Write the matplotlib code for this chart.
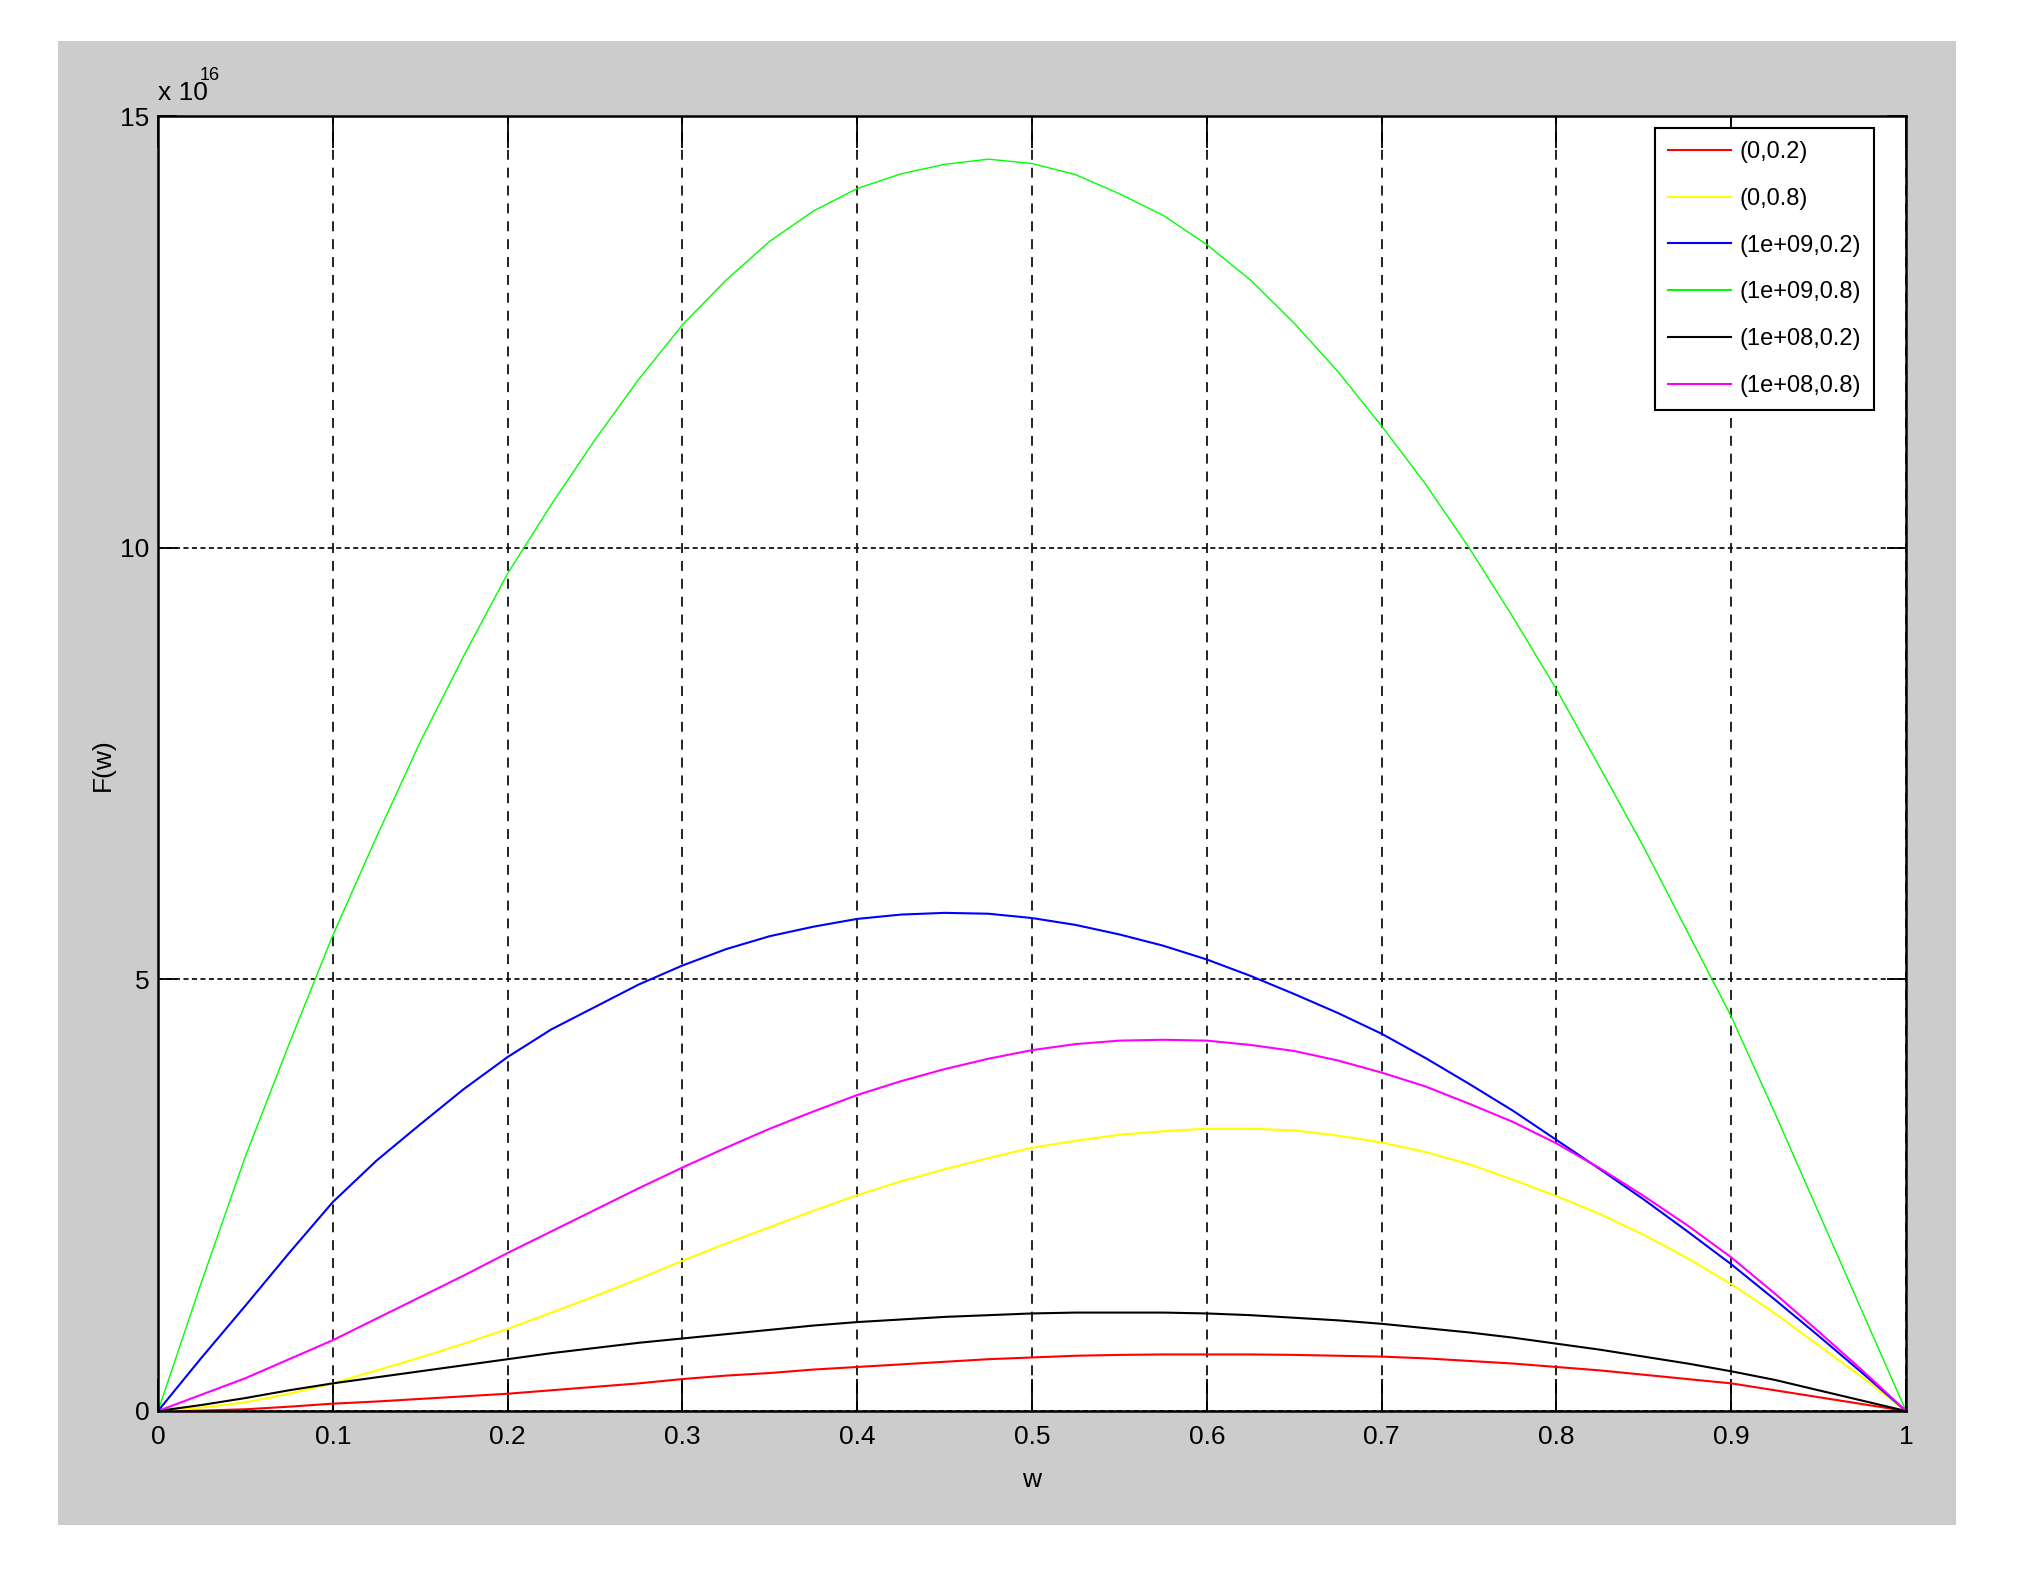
import matplotlib
matplotlib.use('Agg')
import matplotlib.pyplot as plt
from matplotlib.patches import Rectangle
import numpy as np

plt.rcParams['font.family'] = ['Liberation Sans Narrow', 'Liberation Sans', 'DejaVu Sans']

# w axis samples (every 0.025)
w = [0, 0.025, 0.05, 0.075, 0.1, 0.125, 0.15, 0.175, 0.2, 0.225, 0.25,
     0.275, 0.3, 0.325, 0.35, 0.375, 0.4, 0.425, 0.45, 0.475, 0.5,
     0.525, 0.55, 0.575, 0.6, 0.625, 0.65, 0.675, 0.7, 0.725, 0.75,
     0.775, 0.8, 0.825, 0.85, 0.875, 0.9, 0.925, 0.95, 0.975, 1.0]

# F(w) values, in units of 1e16
f_0_02 = [0, 0.005, 0.02, 0.05, 0.085, 0.11, 0.14, 0.17, 0.20, 0.24, 0.28,
          0.32, 0.37, 0.41, 0.44, 0.48, 0.51, 0.54, 0.57, 0.60, 0.62,
          0.64, 0.65, 0.655, 0.655, 0.655, 0.65, 0.64, 0.63, 0.61, 0.58,
          0.55, 0.51, 0.47, 0.42, 0.37, 0.32, 0.24, 0.16, 0.08, 0]
f_0_08 = [0, 0.04, 0.10, 0.20, 0.32, 0.47, 0.62, 0.78, 0.95, 1.14, 1.33,
          1.53, 1.74, 1.94, 2.13, 2.32, 2.50, 2.66, 2.80, 2.93, 3.05,
          3.13, 3.20, 3.24, 3.27, 3.27, 3.25, 3.19, 3.11, 3.00, 2.86,
          2.68, 2.49, 2.28, 2.04, 1.77, 1.47, 1.13, 0.76, 0.39, 0]
f_1e9_02 = [0, 0.62, 1.22, 1.83, 2.42, 2.90, 3.32, 3.73, 4.10, 4.42, 4.68,
            4.94, 5.16, 5.35, 5.50, 5.61, 5.70, 5.75, 5.77, 5.76, 5.71,
            5.63, 5.52, 5.39, 5.23, 5.04, 4.83, 4.61, 4.37, 4.09, 3.79,
            3.48, 3.14, 2.80, 2.45, 2.08, 1.70, 1.29, 0.87, 0.44, 0]
f_1e9_08 = [0, 1.50, 2.95, 4.25, 5.51, 6.65, 7.75, 8.75, 9.70, 10.50, 11.25,
            11.95, 12.58, 13.10, 13.55, 13.90, 14.16, 14.33, 14.44, 14.50, 14.45,
            14.32, 14.10, 13.85, 13.51, 13.10, 12.60, 12.04, 11.41, 10.74, 10.0,
            9.20, 8.36, 7.45, 6.53, 5.55, 4.57, 3.45, 2.30, 1.15, 0]
f_1e8_02 = [0, 0.07, 0.15, 0.24, 0.32, 0.39, 0.46, 0.53, 0.60, 0.67, 0.73,
            0.79, 0.84, 0.89, 0.94, 0.99, 1.03, 1.06, 1.09, 1.11, 1.13,
            1.14, 1.14, 1.14, 1.13, 1.11, 1.08, 1.05, 1.01, 0.96, 0.91,
            0.85, 0.78, 0.71, 0.63, 0.55, 0.46, 0.36, 0.24, 0.12, 0]
f_1e8_08 = [0, 0.19, 0.38, 0.60, 0.82, 1.07, 1.32, 1.57, 1.83, 2.08, 2.33,
            2.58, 2.82, 3.05, 3.27, 3.47, 3.66, 3.82, 3.96, 4.08, 4.18,
            4.25, 4.29, 4.30, 4.29, 4.24, 4.17, 4.06, 3.92, 3.76, 3.56,
            3.35, 3.10, 2.81, 2.49, 2.15, 1.78, 1.36, 0.92, 0.47, 0]

scale = 1e16
labels = ['(0,0.2)', '(0,0.8)', '(1e+09,0.2)', '(1e+09,0.8)', '(1e+08,0.2)', '(1e+08,0.8)']
series = [f_0_02, f_0_08, f_1e9_02, f_1e9_08, f_1e8_02, f_1e8_08]
colors = ['#ff0000', '#ffff00', '#0000ff', '#00ff00', '#000000', '#ff00ff']
widths = [1.5, 1.5, 1.5, 1.0, 1.5, 1.5]

xticks = [0, 0.1, 0.2, 0.3, 0.4, 0.5, 0.6, 0.7, 0.8, 0.9, 1]
xticklabels = ['0', '0.1', '0.2', '0.3', '0.4', '0.5', '0.6', '0.7', '0.8', '0.9', '1']
yticks = [0, 5, 10, 15]
yticklabels = ['0', '5', '10', '15']

W, H = 2023, 1578
fig = plt.figure(figsize=(W / 100, H / 100), dpi=100)
fig.patch.set_facecolor('white')

# grey MATLAB figure area
fig.add_artist(Rectangle((58 / W, 1 - 1525 / H), (1956 - 58) / W, (1525 - 41) / H,
                         transform=fig.transFigure, facecolor='#cccccc',
                         edgecolor='none', zorder=-10))

ax = fig.add_axes([158 / W, 1 - 1411 / H, (1906 - 158) / W, (1411 - 116) / H])
ax.set_facecolor('white')

for ys, lab, c, lw in zip(series, labels, colors, widths):
    ax.plot(w, np.array(ys) * scale, color=c, lw=lw, label=lab)

ax.set_xlim(0, 1)
ax.set_ylim(0, 15 * scale)
ax.set_xticks(xticks)
ax.set_xticklabels(xticklabels)
ax.set_yticks([t * scale for t in yticks])
ax.set_yticklabels(yticklabels)

ax.xaxis.grid(True, color='#111111', lw=1.3, ls=(0, (5.5, 4.4)))
ax.yaxis.grid(True, color='#111111', lw=1.3, ls=(0, (2.8, 1.9)))
ax.set_axisbelow(True)

ax.tick_params(axis='both', direction='in', top=True, right=True,
               width=1.3, labelsize=19, colors='black')
ax.tick_params(axis='x', length=23, pad=10)
ax.tick_params(axis='y', length=13.5, pad=6)
for s in ax.spines.values():
    s.set_linewidth(1.8)

# exponent label
fig.text(158 / W, 1 - 100 / H, 'x 10', fontsize=19, ha='left', va='baseline')
fig.text(200 / W, 1 - 80 / H, '16', fontsize=13, ha='left', va='baseline')

fig.text(1032 / W, 1 - 1480 / H, 'w', fontsize=19, ha='center', va='center')
fig.text(103 / W, 1 - 765 / H, 'F(w)', fontsize=19, ha='center', va='center',
         rotation=90)

leg = ax.legend(loc='upper right', bbox_to_anchor=(1874 / W, 1 - 128 / H),
                bbox_transform=fig.transFigure, borderaxespad=0, fontsize=17,
                handlelength=2.7, handletextpad=0.35, labelspacing=1.05,
                borderpad=0.55, fancybox=False, framealpha=1, edgecolor='black')
leg.get_frame().set_linewidth(1.5)
for line in leg.get_lines():
    line.set_linewidth(1.5)

fig.savefig('out.png', dpi=100)
